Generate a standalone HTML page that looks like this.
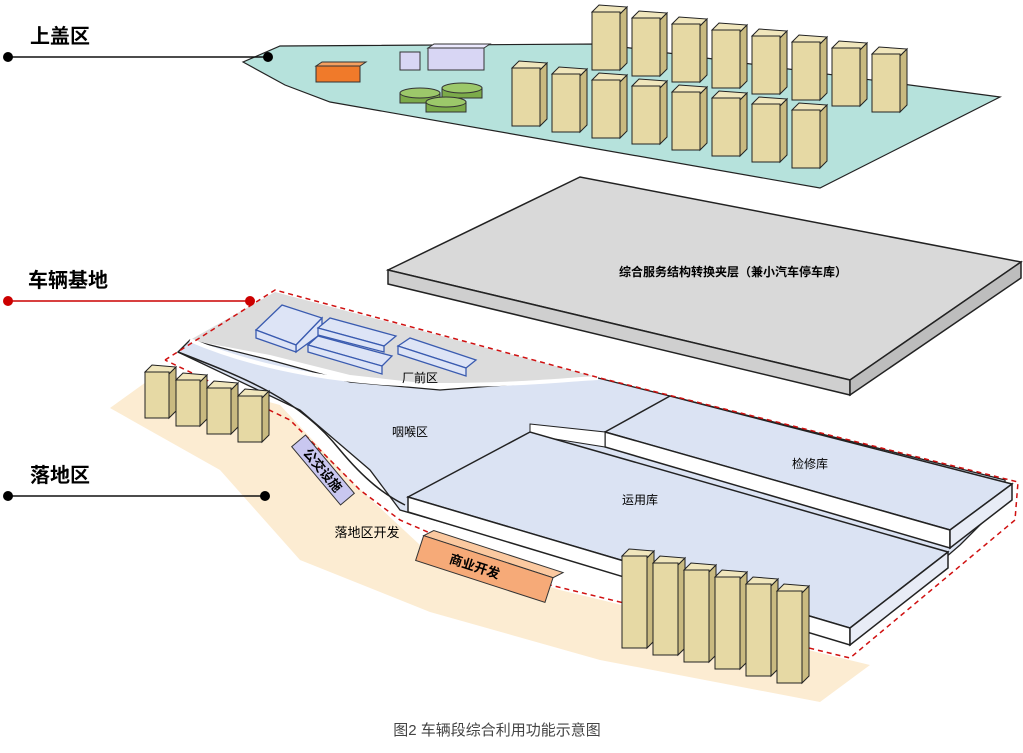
<!DOCTYPE html>
<html><head><meta charset="utf-8"><style>
body{margin:0;background:#fff;}
svg{display:block;font-family:"Liberation Sans","Noto Sans CJK SC",sans-serif;}
</style></head><body>
<svg id="s" width="1023" height="753" viewBox="0 0 1023 753" xmlns="http://www.w3.org/2000/svg">
<!-- top deck -->
<polygon points="243,62 280,46 600,44 1000,97 820,188 330,102 285,85" fill="#b6e2dc" stroke="#222" stroke-width="1.2"/>
<rect x="316" y="66" width="44" height="16" fill="#f07a2a" stroke="#333"/>
<polygon points="316,66 322,62 366,62 360,66" fill="#f5a060" stroke="#333"/>
<rect x="400" y="52" width="20" height="18" fill="#d8d6f4" stroke="#333"/>
<rect x="428" y="48" width="56" height="22" fill="#d8d6f4" stroke="#333"/>
<polygon points="428,48 434,44 490,44 484,48" fill="#eceaff" stroke="#333"/>
<g fill="#7cab4a" stroke="#333">
<rect x="400" y="93" width="40" height="10"/><ellipse cx="420" cy="93" rx="20" ry="5" fill="#9cc86a"/>
<rect x="442" y="88" width="40" height="10"/><ellipse cx="462" cy="88" rx="20" ry="5" fill="#9cc86a"/>
<rect x="426" y="102" width="40" height="10"/><ellipse cx="446" cy="102" rx="20" ry="5" fill="#9cc86a"/>
</g>
<g id="tb"></g>
<!-- gray deck -->
<polygon points="388,270 580,177 1021,262 850,380" fill="#d9d9d9" stroke="#222" stroke-width="1.5"/>
<polygon points="388,270 850,380 850,395 388,284" fill="#cfcfcf" stroke="#222" stroke-width="1.5"/>
<polygon points="850,380 1021,262 1021,278 850,395" fill="#bdbdbd" stroke="#222" stroke-width="1.5"/>
<text x="733" y="276" font-size="12" font-weight="bold" text-anchor="middle">综合服务结构转换夹层（兼小汽车停车库）</text>
<!-- ground -->
<polygon points="110,408 160,372 280,405 350,480 420,545 560,590 870,665 820,702 600,660 430,612 300,560 220,470" fill="#fcecd2"/>
<!-- gray factory front -->
<polygon points="190,340 275,292 600,378 540,382 440,385 350,375 270,355" fill="#dcdcdc"/>
<!-- base -->
<polygon points="178,352 190,340 270,360 350,382 440,390 598,378 1005,480 1005,500 960,545 850,640 400,510 370,470 300,410" fill="#dbe3f3" stroke="#222" stroke-width="1.3"/>
<path d="M178,352 C250,380 300,400 340,450 C365,480 385,495 405,505" fill="none" stroke="#222" stroke-width="1.5"/>
<path d="M190,340 C260,370 350,385 440,385 C520,385 560,380 598,378" fill="none" stroke="#fff" stroke-width="4"/>
<!-- 检修库 -->
<polygon points="605,432 670,396 1012,484 950,530" fill="#dbe3f3" stroke="#222" stroke-width="1.5"/>
<polygon points="605,432 950,530 950,548 605,447" fill="#fff" stroke="#222" stroke-width="1.5"/>
<polygon points="950,530 1012,484 1012,500 950,548" fill="#e8ecf6" stroke="#222" stroke-width="1.5"/>
<polygon points="530,424 605,432 605,447 530,435" fill="#fff" stroke="#222"/>
<!-- 运用库 -->
<polygon points="408,497 530,432 948,552 850,628" fill="#dbe3f3" stroke="#222" stroke-width="1.5"/>
<polygon points="408,497 850,628 850,645 408,512" fill="#fff" stroke="#222" stroke-width="1.5"/>
<polygon points="850,628 948,552 948,568 850,645" fill="#e8ecf6" stroke="#222" stroke-width="1.5"/>
<!-- red dashed -->
<polyline points="165,360 275,290 600,378 1018,482 1015,520 850,658 550,585 400,520 360,490 290,420 165,360" fill="none" stroke="#d01010" stroke-width="1.5" stroke-dasharray="5,4"/>
<!-- factory buildings -->
<g fill="#dde4f6" stroke="#3a5bb0" stroke-width="1.3">
<polygon points="256,330 282,305 322,318 296,345"/><polygon points="296,345 322,318 322,333 296,352"/><polygon points="256,330 296,345 296,352 256,338"/>
<polygon points="318,328 330,318 396,336 384,346"/><polygon points="318,328 384,346 384,352 318,335"/>
<polygon points="308,345 318,336 392,356 382,366"/><polygon points="308,345 382,366 382,374 308,352"/>
<polygon points="398,346 410,338 476,360 466,368"/><polygon points="398,346 466,368 466,376 398,354"/>
</g>
<g id="lb"></g>
<!-- 公交设施 -->
<g transform="translate(323,470) rotate(50)">
<rect x="-38" y="-9" width="76" height="18" fill="#c9c7f0" stroke="#333"/>
<text x="0" y="5" font-size="13" font-weight="bold" text-anchor="middle">公交设施</text>
</g>
<!-- 商业开发 -->
<g transform="translate(484,570) rotate(18)">
<polygon points="-68,-14 -60,-22 76,-22 68,-14" fill="#fbc9a0" stroke="#333"/>
<rect x="-68" y="-14" width="136" height="26" fill="#f6aa78" stroke="#333"/>
<text x="-10" y="4" font-size="13" font-weight="bold" text-anchor="middle">商业开发</text>
</g>
<text x="420" y="382" font-size="12" text-anchor="middle">厂前区</text>
<text x="410" y="436" font-size="12" text-anchor="middle">咽喉区</text>
<text x="810" y="468" font-size="12" text-anchor="middle">检修库</text>
<text x="640" y="504" font-size="12" text-anchor="middle">运用库</text>
<text x="367" y="537" font-size="13" text-anchor="middle">落地区开发</text>
<!-- left labels -->
<g font-size="20" font-weight="bold">
<text x="30" y="43">上盖区</text><text x="28" y="287">车辆基地</text><text x="30" y="482">落地区</text>
</g>
<line x1="8" y1="57" x2="268" y2="57" stroke="#111" stroke-width="1.5"/><circle cx="8" cy="57" r="5"/><circle cx="268" cy="57" r="5"/>
<line x1="8" y1="301" x2="250" y2="301" stroke="#c00" stroke-width="1.5"/><circle cx="8" cy="301" r="5" fill="#c00"/><circle cx="250" cy="301" r="5" fill="#c00"/>
<line x1="8" y1="496" x2="265" y2="496" stroke="#111" stroke-width="1.5"/><circle cx="8" cy="496" r="5"/><circle cx="265" cy="496" r="5"/>
<text x="497" y="735" font-size="15" fill="#444" text-anchor="middle">图2 车辆段综合利用功能示意图</text>
</svg>
<script>
function bld(g,x,y,w,h){
 var d=7,s='';
 s+='<polygon points="'+x+','+y+' '+(x+d)+','+(y-d)+' '+(x+w+d)+','+(y-d+2)+' '+(x+w)+','+(y+2)+'" fill="#f0e6bc" stroke="#222"/>';
 s+='<polygon points="'+(x+w)+','+(y+2)+' '+(x+w+d)+','+(y-d+2)+' '+(x+w+d)+','+(y+h-d)+' '+(x+w)+','+(y+h)+'" fill="#c9ba80" stroke="#222"/>';
 s+='<rect x="'+x+'" y="'+y+'" width="'+w+'" height="'+h+'" fill="#e6d9a4" stroke="#222"/>';
 g.innerHTML+=s;
}
var tb=document.getElementById('tb');
for(var i=0;i<8;i++)bld(tb,592+i*40,12+i*6,28,58);
for(var i=0;i<8;i++)bld(tb,512+i*40,68+i*6,28,58);
var lb=document.getElementById('lb');
for(var i=0;i<4;i++)bld(lb,145+i*31,372+i*8,24,46);
for(var i=0;i<6;i++)bld(lb,622+i*31,556+i*7,25,92);
</script>
</body></html>
